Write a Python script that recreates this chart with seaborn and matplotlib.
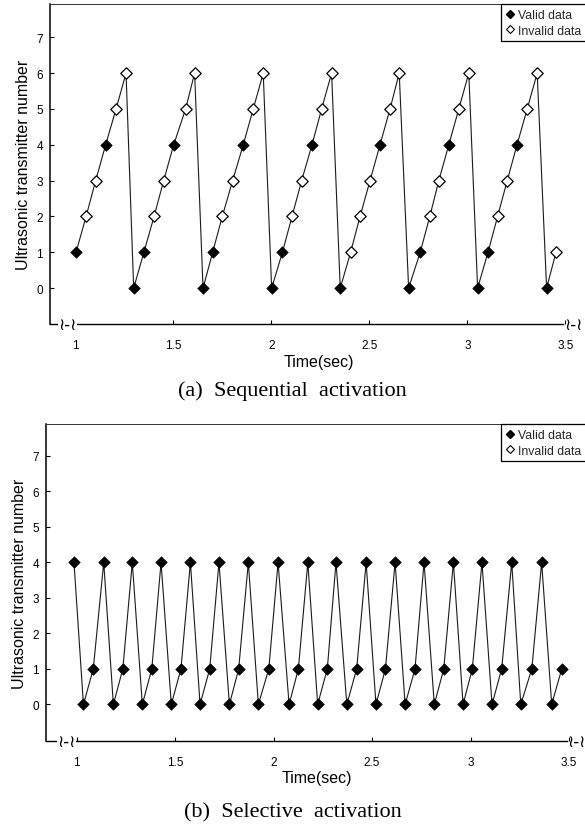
import numpy as np
import pandas as pd
import seaborn as sns
import matplotlib
matplotlib.use("Agg")
import matplotlib.pyplot as plt
from matplotlib.lines import Line2D

# ---------------- data ----------------
# (a) Sequential activation
seq_time = [1.003, 1.054, 1.103, 1.154, 1.207, 1.258, 1.297,
            1.349, 1.401, 1.450, 1.501, 1.562, 1.608, 1.651,
            1.700, 1.749, 1.802, 1.856, 1.907, 1.958, 2.001,
            2.056, 2.105, 2.154, 2.207, 2.256, 2.307, 2.351,
            2.404, 2.452, 2.503, 2.554, 2.605, 2.652, 2.700,
            2.759, 2.808, 2.854, 2.905, 2.956, 3.007, 3.052,
            3.105, 3.154, 3.203, 3.253, 3.305, 3.356, 3.404,
            3.452]
seq_number = [1, 2, 3, 4, 5, 6, 0,
              1, 2, 3, 4, 5, 6, 0,
              1, 2, 3, 4, 5, 6, 0,
              1, 2, 3, 4, 5, 6, 0,
              1, 2, 3, 4, 5, 6, 0,
              1, 2, 3, 4, 5, 6, 0,
              1, 2, 3, 4, 5, 6, 0,
              1]
seq_valid = [1, 0, 0, 1, 0, 0, 1,
             1, 0, 0, 1, 0, 0, 1,
             1, 0, 0, 1, 0, 0, 1,
             1, 0, 0, 1, 0, 0, 1,
             0, 0, 0, 1, 0, 0, 1,
             1, 0, 0, 1, 0, 0, 1,
             1, 0, 0, 1, 0, 0, 1,
             0]

# (b) Selective activation
sel_time = [0.987, 1.035, 1.085, 1.138, 1.187, 1.235, 1.283, 1.334, 1.382,
            1.429, 1.481, 1.530, 1.578, 1.627, 1.676, 1.723, 1.776, 1.823,
            1.872, 1.923, 1.976, 2.023, 2.079, 2.126, 2.174, 2.224, 2.273,
            2.317, 2.372, 2.422, 2.470, 2.520, 2.568, 2.617, 2.668, 2.718,
            2.764, 2.816, 2.864, 2.913, 2.962, 3.009, 3.058, 3.109, 3.158,
            3.209, 3.255, 3.311, 3.361, 3.412, 3.463]
sel_number = [4, 0, 1, 4, 0, 1, 4, 0, 1,
              4, 0, 1, 4, 0, 1, 4, 0, 1,
              4, 0, 1, 4, 0, 1, 4, 0, 1,
              4, 0, 1, 4, 0, 1, 4, 0, 1,
              4, 0, 1, 4, 0, 1, 4, 0, 1,
              4, 0, 1, 4, 0, 1]
sel_valid = [1] * 51

x_ticks = [1, 1.5, 2, 2.5, 3, 3.5]
x_tick_labels = ["1", "1.5", "2", "2.5", "3", "3.5"]
y_ticks = [0, 1, 2, 3, 4, 5, 6, 7]
y_tick_labels = ["0", "1", "2", "3", "4", "5", "6", "7"]
legend_labels = ["Valid data", "Invalid data"]
captions = ["(a)  Sequential  activation", "(b)  Selective  activation"]

# ---------------- style ----------------
sns.set_theme(style="ticks")
plt.rcParams["font.family"] = ["Liberation Sans", "DejaVu Sans"]

W, H = 585, 828
fig = plt.figure(figsize=(W / 100, H / 100), dpi=100)


def px_axes(left, top, right, bottom):
    return fig.add_axes([left / W, 1 - bottom / H, (right - left) / W, (bottom - top) / H])


def draw(ax, t, v, valid, xlim, ylim):
    df = pd.DataFrame({"t": t, "v": v, "valid": valid})
    sns.lineplot(data=df, x="t", y="v", sort=False, estimator=None,
                 color="#1a1a1a", lw=0.8, ax=ax, zorder=2)
    good = df[df["valid"] == 1]
    bad = df[df["valid"] == 0]
    sns.scatterplot(data=good, x="t", y="v", marker="D", s=34, color="black",
                    edgecolor="black", linewidth=0.5, ax=ax, zorder=3)
    if len(bad):
        sns.scatterplot(data=bad, x="t", y="v", marker="D", s=34, color="white",
                        edgecolor="black", linewidth=0.9, ax=ax, zorder=3)
    ax.set_xlim(*xlim)
    ax.set_ylim(*ylim)
    ax.set_xticks(x_ticks)
    ax.set_xticklabels(x_tick_labels)
    ax.set_yticks(y_ticks)
    ax.set_yticklabels(y_tick_labels)
    ax.tick_params(axis="x", direction="in", length=3, width=0.8, pad=11,
                   labelsize=8.5, colors="black")
    ax.tick_params(axis="y", direction="in", length=3, width=0.8, pad=5,
                   labelsize=8.5, colors="black")
    ax.set_xlabel("Time(sec)", fontsize=11.5, color="black")
    ax.set_ylabel("Ultrasonic transmitter number", fontsize=11.5, color="black")
    ax.xaxis.set_label_coords(0.503, -0.093)
    ax.yaxis.set_label_coords(-0.036, 0.5)
    for side in ["left", "bottom", "top"]:
        ax.spines[side].set_visible(True)
        ax.spines[side].set_color("black")
    ax.spines["right"].set_visible(False)
    ax.spines["left"].set_linewidth(1.1)
    ax.spines["bottom"].set_linewidth(1.0)
    ax.spines["top"].set_linewidth(0.7)
    ax.spines["top"].set_color("#333333")
    ax.spines["bottom"].set_bounds(xlim[0], 3.49)
    # axis break marks
    ax.text(1.0 - (1.0 - xlim[0]) * 0.33, ylim[0], "\u2240-\u2240", transform=ax.transData,
            ha="center", va="center", fontsize=12, family="DejaVu Sans", color="black",
            bbox=dict(facecolor="white", edgecolor="none", pad=0.3), zorder=5, clip_on=False)
    ax.text(3.54, ylim[0], "\u2240-\u2240", transform=ax.transData,
            ha="center", va="center", fontsize=12, family="DejaVu Sans", color="black",
            zorder=5, clip_on=False)
    handles = [
        Line2D([], [], marker="D", ls="", mfc="black", mec="black", ms=4.2),
        Line2D([], [], marker="D", ls="", mfc="white", mec="black", mew=0.8, ms=4.2),
    ]
    leg = ax.legend(handles, legend_labels, loc="upper right", bbox_to_anchor=(1.002, 1.0),
                    frameon=True, fancybox=False, edgecolor="black", framealpha=1,
                    fontsize=8.8, handlelength=0.6, handletextpad=0.35, borderpad=0.4,
                    labelspacing=0.3, borderaxespad=0)
    leg.get_frame().set_linewidth(0.9)
    ax.set_facecolor("white")


ax1 = px_axes(50, 5, 585, 325)
draw(ax1, seq_time, seq_number, seq_valid, (0.870, 3.600), (-1.0, 7.93))

ax2 = px_axes(46, 425, 585, 742)
draw(ax2, sel_time, sel_number, sel_valid, (0.845, 3.581), (-1.03, 7.9))

fig.text(0.5, 1 - 391 / H, captions[0], ha="center", va="center",
         fontsize=16, family="Liberation Serif", color="black")
fig.text(0.5, 1 - 813 / H, captions[1], ha="center", va="center",
         fontsize=16, family="Liberation Serif", color="black")

fig.savefig("out.png", dpi=100, facecolor="white")
